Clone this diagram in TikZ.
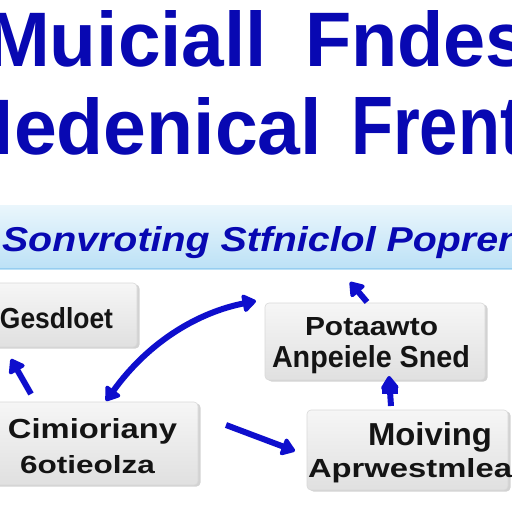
\documentclass[tikz,border=0pt]{standalone}
\usepackage{fontspec}
\setmainfont{Liberation Sans}
\usepackage{graphicx}
\usetikzlibrary{arrows.meta,shadows}
\definecolor{titleblue}{RGB}{8,8,178}
\definecolor{arrowblue}{RGB}{14,14,205}
\definecolor{bannertop}{RGB}{234,246,252}
\definecolor{bannerbot}{RGB}{188,225,246}
\definecolor{bannerline}{RGB}{150,205,240}
\definecolor{cardtop}{RGB}{246,246,246}
\definecolor{cardbot}{RGB}{224,224,224}
\definecolor{inkblack}{RGB}{20,20,20}
\newcommand{\fitbox}[3]{\resizebox{#1pt}{#2pt}{#3}}
\begin{document}
\begin{tikzpicture}[x=1pt,y=-1pt,
  word/.style={inner sep=0pt, outer sep=0pt, anchor=base west},
  titleword/.style={word, text=titleblue, font=\bfseries},
  cardword/.style={word, text=inkblack, font=\bfseries},
  card/.style={rounded corners=4pt, top color=cardtop, bottom color=cardbot,
    draw=gray!30, line width=0.6pt, inner sep=0pt,
    drop shadow={shadow xshift=2.5pt, shadow yshift=-1.5pt, opacity=0.35, fill=gray}},
  link/.style={draw=arrowblue, line width=6pt},
  tip/.style={-{Triangle[length=15pt,width=20pt,round]}}
]
\useasboundingbox (0,0) rectangle (512,512);
\clip (0,0) rectangle (512,512);
\fill[white] (0,0) rectangle (512,512);

% title
\node[titleword] (t1) at (-14,66) {\fitbox{281}{56}{Muiciall}};
\node[titleword] (t2) at (305,66) {\fitbox{223}{56}{Fndes}};
\node[titleword] (t3) at (-50,154) {\fitbox{372}{57}{Medenical}};
\node[titleword] (t4) at (351,154) {\fitbox{172}{57}{Frent}};

% banner
\shade[top color=bannertop, bottom color=bannerbot] (-2,205) rectangle (514,269);
\draw[bannerline, line width=1.2pt] (-2,268.5) -- (514,268.5);
\node[word, text=titleblue, font=\bfseries\itshape] (sub) at (2,251)
  {\fitbox{520}{25}{Sonvroting Stfniclol Popren}};

% cards
\node[card, minimum width=147pt, minimum height=64pt] (A) at (63.5,315) {};
\node[card, minimum width=220pt, minimum height=77pt] (B) at (375,341.5) {};
\node[card, minimum width=208pt, minimum height=83pt] (C) at (94,443.5) {};
\node[card, minimum width=201pt, minimum height=80pt] (D) at (407.5,450) {};

\node[cardword] (a1) at (0,328) {\fitbox{113}{21}{Gesdloet}};
\node[cardword] (b1) at (305,335) {\fitbox{133}{18}{Potaawto}};
\node[cardword] (b2) at (272,367) {\fitbox{198}{22}{Anpeiele Sned}};
\node[cardword] (c1) at (8,438) {\fitbox{169}{20}{Cimioriany}};
\node[cardword] (c2) at (20,473) {\fitbox{135}{18}{6otieolza}};
\node[cardword] (d1) at (368,445) {\fitbox{124}{23}{Moiving}};
\node[cardword] (d2) at (308,477) {\fitbox{204}{19}{Aprwestmlea}};

% connector end points
\coordinate (p1) at (106,401);
\coordinate (p2) at (256,301);
\coordinate (q1) at (31,394);
\coordinate (q2) at (11,359);
\coordinate (r1) at (367,302);
\coordinate (r2) at (350,282);
\coordinate (s1) at (391,406);
\coordinate (s2) at (389,376);
\coordinate (u1) at (226,425);
\coordinate (u2) at (295,451);

% connectors
\draw[link, {Triangle[length=15pt,width=20pt,round]}-{Triangle[length=15pt,width=20pt,round]}]
  (p1) .. controls (150,340) and (200,312) .. (p2);
\draw[link, tip] (q1) -- (q2);
\draw[link, tip] (r1) -- (r2);
\draw[link, tip] (s1) -- (s2);
\draw[link] (382,391) -- (398,391);
\draw[link, tip] (u1) -- (u2);
\end{tikzpicture}
\end{document}
